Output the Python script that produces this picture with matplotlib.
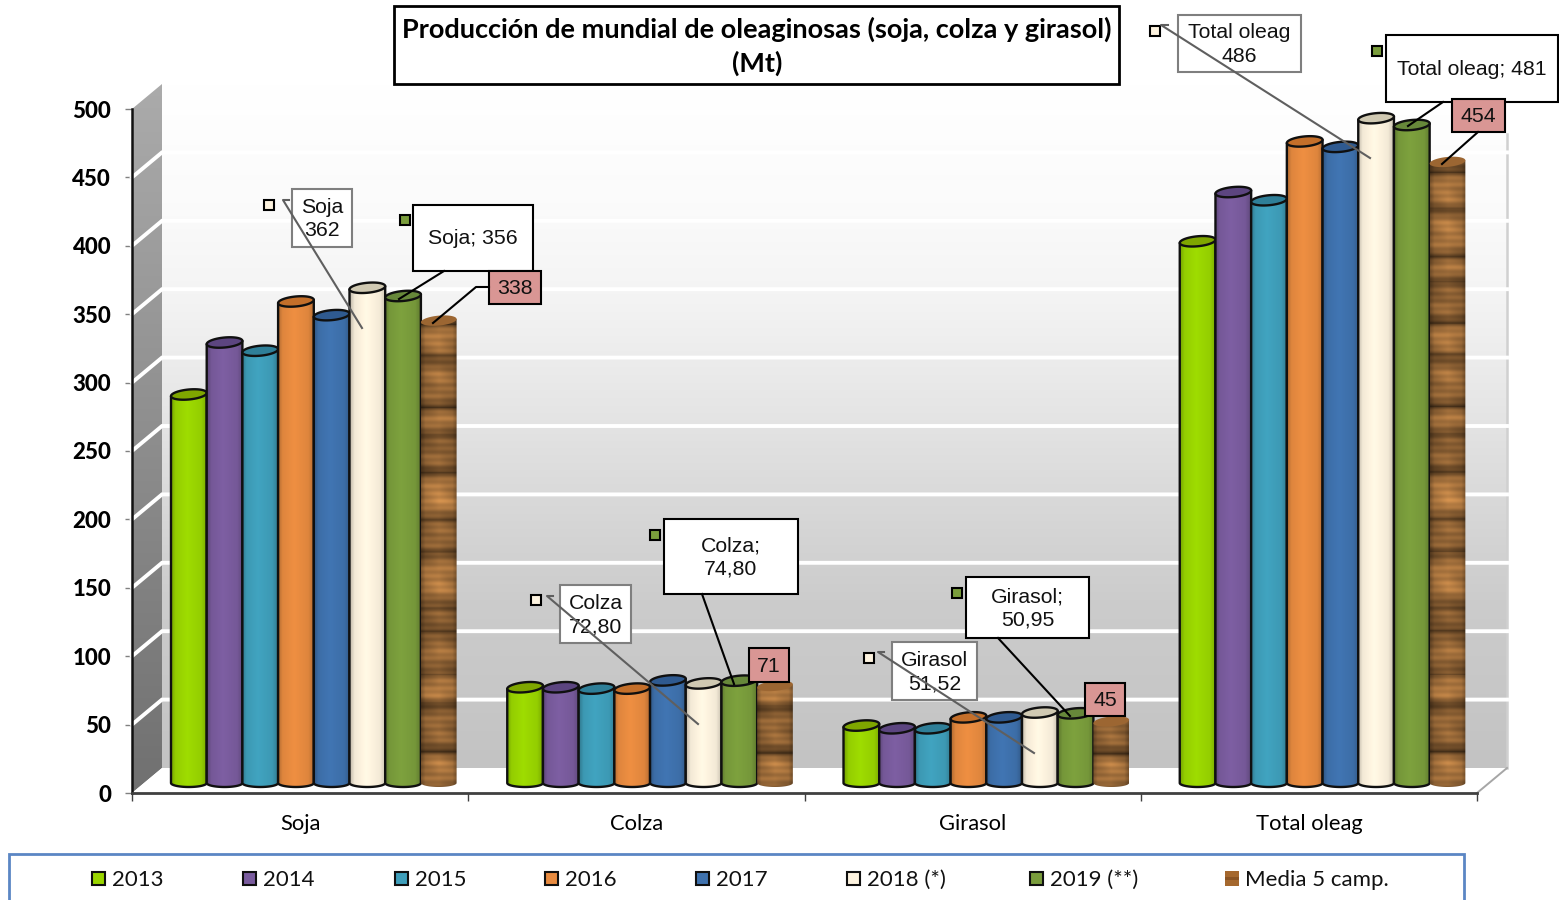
#!/usr/bin/env python3
import numpy as np
import matplotlib
matplotlib.use("Agg")
import matplotlib.pyplot as plt
from matplotlib.colors import to_rgb
from matplotlib.patches import PathPatch, Polygon, Rectangle
from matplotlib.path import Path

CATEGORIES = ["Soja", "Colza", "Girasol", "Total oleag"]
V_2013 = [284, 70, 42, 396]
V_2014 = [322, 70, 40, 432]
V_2015 = [316, 69, 40, 426]
V_2016 = [352, 69, 48, 469]
V_2017 = [342, 75, 48, 465]
V_2018 = [362, 72.80, 51.52, 486]
V_2019 = [356, 74.80, 50.95, 481]
V_MEDIA = [338, 71, 45, 454]
SERIES_NAMES = ["2013", "2014", "2015", "2016", "2017", "2018 (*)", "2019 (**)", "Media 5 camp."]
Y_TICKS = [0, 50, 100, 150, 200, 250, 300, 350, 400, 450, 500]
TITLE = "Producción de mundial de oleaginosas (soja, colza y girasol)\n(Mt)"

COLORS = ["#9ad600", "#7a5c9e", "#3f9fbb", "#e88b40", "#3f72ae", "#fdf3df", "#7a9d3c", "#a5682e"]
TOPS = ["#7fa600", "#5c4580", "#2f7f98", "#c46f2a", "#2f5a90", "#d0c9b2", "#67883a", "#9c6632"]
ALL_VALUES = [V_2013, V_2014, V_2015, V_2016, V_2017, V_2018, V_2019, V_MEDIA]

# ring heights (px) and brightness of the wooden "media" cylinders
WOOD_RINGS = [36, 50, 28, 44, 24, 56, 33, 47, 39, 27, 53, 31, 42, 25, 49]
WOOD_LEVELS = [1.02, 0.88, 1.06, 0.92, 0.82, 1.03, 0.9, 1.08, 0.85, 0.98, 0.93, 1.04, 0.87, 0.96, 1.02]

FIG_W, FIG_H = 1559, 900
AX_L, AX_R, AX_T, AX_B = 132, 1477, 109, 793
PX_X = (AX_R - AX_L) / 4.0
PX_Y = (AX_B - AX_T) / 500.0
DEPTH_X = 30 / PX_X
DEPTH_Y = 25 / PX_Y
BAR_W = 35.7 / PX_X
GROUP_START = 39 / PX_X
BAR_BASE = 10 / PX_Y
ELL_H = 5 / PX_Y
TILT = 1.6 / PX_Y

BODY_FONT = ["Lato", "DejaVu Sans"]
BOX_FONT = ["Liberation Sans", "DejaVu Sans"]


def fmt(v):
    if float(v).is_integer():
        return str(int(v))
    return f"{v:.2f}".replace(".", ",")


def wall_shade(y_px):
    return np.interp(y_px, [84, 200, 300, 400, 500, 600, 768],
                     [1.0, 0.985, 0.955, 0.905, 0.85, 0.80, 0.765])


def draw_walls(ax):
    rows = np.arange(84, 769)[::-1]
    shade = wall_shade(rows)
    back = np.dstack([shade, shade, shade])[:, None, :].reshape(len(rows), 1, 3)
    ax.imshow(back, extent=(DEPTH_X, 4 + DEPTH_X, DEPTH_Y, 500 + DEPTH_Y), origin="lower",
              aspect="auto", zorder=1, clip_on=False, interpolation="bilinear")

    side = np.linspace(0.44, 0.67, 256)[:, None]
    side = np.dstack([side, side, side])
    im = ax.imshow(side, extent=(0, DEPTH_X, 0, 500 + DEPTH_Y), origin="lower",
                   aspect="auto", zorder=1, interpolation="bilinear")
    clip = Polygon([(0, 0), (DEPTH_X, DEPTH_Y), (DEPTH_X, 500 + DEPTH_Y), (0, 500)],
                   transform=ax.transData, fc="none", ec="none")
    ax.add_patch(clip)
    clip.set_clip_on(False)
    im.set_clip_path(clip)
    # images fall back on the axes box when no box is set, and the wall rises above it
    im.set_clip_box(ax.figure.bbox)

    ax.add_patch(Polygon([(0, 0), (DEPTH_X, DEPTH_Y), (4 + DEPTH_X, DEPTH_Y), (4, 0)], fc="white",
                         ec="none", zorder=1.5, clip_on=False))
    for t in Y_TICKS[1:-1]:
        ax.plot([0, DEPTH_X, 4 + DEPTH_X], [t, t + DEPTH_Y, t + DEPTH_Y], color="white", lw=2.8,
                zorder=2, clip_on=False, solid_joinstyle="miter")
    ax.plot([4, 4 + DEPTH_X], [0, DEPTH_Y], color="#a6a6a6", lw=1.4, zorder=2, clip_on=False)
    ax.plot([4 + DEPTH_X, 4 + DEPTH_X], [DEPTH_Y, 482], color="#d0d0d0", lw=1.8, zorder=1.8,
            clip_on=False)


def cylinder_paths(x0, top):
    t = np.linspace(0, np.pi, 40)
    a = BAR_W / 2
    cx = x0 + a
    # body outline: down the right side, lower arc, up the left side
    bot_x = cx + a * np.cos(t)
    bot_y = BAR_BASE - ELL_H * 0.8 * np.sin(t)
    body = np.vstack([[cx + a, top + TILT], np.column_stack([bot_x, bot_y]), [cx - a, top - TILT]])
    tt = np.linspace(0, 2 * np.pi, 60)
    cap = np.column_stack([cx + a * np.cos(tt), top + ELL_H * np.sin(tt) + TILT * np.cos(tt)])
    return body, cap


def wood_image(n_rows):
    rows = np.arange(n_rows, dtype=float)
    ends = np.cumsum(WOOD_RINGS * 3)
    idx = np.searchsorted(ends, rows, side="right")
    starts = np.r_[0, ends[:-1]]
    u = (rows - starts[idx]) / (ends[idx] - starts[idx])
    levels = np.array(WOOD_LEVELS * 3)[idx]
    # dark at the joint between two rings, lighter inside, with some fine grain
    rings = levels * (0.58 + 0.48 * np.sin(np.pi * u) ** 0.6)
    rings = rings + 0.07 * np.sin(rows * 0.83) + 0.06 * np.sin(rows * 0.29)
    across = np.interp(np.linspace(0, 1, 36), [0, 0.12, 0.5, 0.88, 1], [0.7, 0.92, 1.04, 0.92, 0.7])
    wave = 1 + 0.05 * np.sin(rows[:, None] * 0.21 + np.linspace(0, 5, 36)[None, :])
    shade = rings[:, None] * across[None, :] * wave
    rgb = np.array(to_rgb("#a3703c"))
    return np.clip(shade[:, :, None] * rgb, 0, 1)


def draw_cylinder(ax, x0, value, color, top_color, z, wood=False):
    top = value + BAR_BASE
    body, cap = cylinder_paths(x0, top)
    edge = "none" if wood else "#101010"
    clip = PathPatch(Path(np.vstack([body, body[0]]), closed=True), fc="none", ec="none",
                     transform=ax.transData)
    ax.add_patch(clip)
    clip.set_clip_on(False)
    if wood:
        img = wood_image(max(int((value + 12) * PX_Y), 4))
    else:
        across = np.interp(np.linspace(0, 1, 36), [0, 0.12, 0.45, 0.85, 1], [0.78, 0.96, 1.03, 0.96, 0.8])
        img = np.clip(across[None, :, None] * np.array(to_rgb(color)), 0, 1)
    im = ax.imshow(img, extent=(x0, x0 + BAR_W, BAR_BASE - ELL_H, top + ELL_H), origin="lower",
                   aspect="auto", zorder=z, interpolation="bilinear")
    im.set_clip_path(clip)
    im.set_clip_box(ax.figure.bbox)
    if not wood:
        ax.plot(np.r_[body[:, 0]], np.r_[body[:, 1]], color=edge, lw=1.7, zorder=z + 0.1,
                clip_on=False, solid_capstyle="round")
    ax.add_patch(Polygon(cap, closed=True, fc=top_color, ec=edge, lw=1.7, zorder=z + 0.2, clip_on=False))


def draw_bars(ax):
    z = 3
    for c in range(len(CATEGORIES)):
        for s, values in enumerate(ALL_VALUES):
            x0 = c + GROUP_START + s * BAR_W
            draw_cylinder(ax, x0, values[c], COLORS[s], TOPS[s], z, wood=(s == 7))
            z += 1


def setup_axes(ax):
    ax.set_xlim(0, 4)
    ax.set_ylim(0, 500)
    ax.set_autoscale_on(False)
    ax.patch.set_visible(False)
    for side in ["top", "right"]:
        ax.spines[side].set_visible(False)
    ax.spines["left"].set_linewidth(1.8)
    ax.spines["left"].set_color("#111111")
    ax.spines["bottom"].set_linewidth(2.0)
    ax.spines["bottom"].set_color("#404040")
    ax.spines["left"].set_zorder(500)
    ax.spines["bottom"].set_zorder(500)

    ax.set_yticks(Y_TICKS)
    ax.set_yticklabels([str(t) for t in Y_TICKS], family=BODY_FONT, fontweight="black", fontsize=16)
    ax.tick_params(axis="y", length=5, width=1, color="#808080", pad=10)
    ax.set_xticks(range(5))
    ax.set_xticklabels([""] * 5)
    ax.set_xticks(np.arange(len(CATEGORIES)) + 0.5, minor=True)
    ax.set_xticklabels(CATEGORIES, minor=True, family=BODY_FONT, fontsize=15.8)
    ax.tick_params(axis="x", which="major", length=6, width=1, color="#404040")
    ax.tick_params(axis="x", which="minor", length=0, pad=15)


def callout(ov, box, text, marker=None, marker_color=None, leader=None, fc="white", ec="black", z=20):
    x0, y0, x1, y1 = box
    ov.add_patch(Rectangle((x0, y0), x1 - x0, y1 - y0, fc=fc, ec=ec, lw=1.5, zorder=z))
    ov.text((x0 + x1) / 2, (y0 + y1) / 2 + 1, text, ha="center", va="center", family=BOX_FONT,
            fontsize=15.3, linespacing=1.3, color="#111111", zorder=z + 0.1)
    if marker is not None:
        ov.plot([marker[0]], [marker[1]], marker="s", ms=7.5, mfc=marker_color, mec="black", mew=1.5,
                ls="none", zorder=z)
    if leader is not None:
        ov.plot(*zip(*leader), color="#5f5f5f" if ec != "black" else "black", lw=1.5, zorder=z + 0.2)


def draw_callouts(ov):
    grey = "#7f7f7f"
    cream = COLORS[5]
    green = COLORS[6]
    pink = "#d99694"
    for c, box, marker, leader in [
        (0, (292, 189, 352, 247), (269, 205), [(289, 200), (283, 200), (362, 328)]),
        (1, (560, 585, 631, 643), (536, 600), [(553, 596), (547, 596), (698, 724)]),
        (2, (892, 642, 977, 700), (869, 658), [(884, 652), (878, 652), (1034, 753)]),
        (3, (1178, 15, 1301, 72), (1155, 31), [(1168, 25), (1161, 25), (1370, 158)]),
    ]:
        callout(ov, box, f"{CATEGORIES[c]}\n{fmt(V_2018[c])}", marker, cream, leader, ec=grey)
    for c, box, marker, leader, sep in [
        (0, (413, 205, 533, 271), (405, 220), [(444, 271), (399, 299)], " "),
        (1, (664, 519, 798, 594), (655, 535), [(702, 594), (734, 684)], "\n"),
        (2, (966, 577, 1089, 638), (957, 593), [(998, 638), (1070, 716)], "\n"),
        (3, (1386, 35, 1558, 102), (1377, 51), [(1443, 102), (1408, 126)], " "),
    ]:
        callout(ov, box, f"{CATEGORIES[c]};{sep}{fmt(V_2019[c])}", marker, green, leader, z=21)
    for c, box, leader in [
        (0, (489, 271, 541, 304), [(489, 287), (476, 287), (433, 323)]),
        (1, (749, 648, 789, 682), None),
        (2, (1085, 683, 1125, 716), None),
        (3, (1452, 99, 1505, 132), [(1478, 132), (1442, 164)]),
    ]:
        callout(ov, box, fmt(V_MEDIA[c]), leader=leader, fc=pink, z=22)


def draw_title(ov):
    ov.add_patch(Rectangle((394, 6), 725, 78, fc="white", ec="black", lw=2, zorder=30))
    ov.text(757, 46, TITLE, ha="center", va="center", family=BODY_FONT, fontweight="bold",
            fontsize=19.5, linespacing=1.42, color="black", zorder=31)


def draw_legend(ov):
    ov.add_patch(Rectangle((9, 854), 1455, 60, fc="white", ec="#5b86c4", lw=2, zorder=30))
    xs = [99, 250, 402, 552, 703, 854, 1037, 1232]
    for name, x, color in zip(SERIES_NAMES, xs, COLORS):
        if name.startswith("Media"):
            ov.add_patch(Rectangle((x - 7, 871), 14, 15, fc=color, ec="none", zorder=31))
            ov.add_patch(Rectangle((x - 7, 877), 14, 3, fc="#8a5424", ec="none", zorder=31))
        else:
            ov.add_patch(Rectangle((x - 6.5, 871.5), 13, 13, fc=color, ec="#101010", lw=1.5, zorder=31))
        ov.text(x + 13, 879.5, name, ha="left", va="center", family=BODY_FONT, fontsize=16,
                color="#111111", zorder=31)


def main():
    fig = plt.figure(figsize=(FIG_W / 100, FIG_H / 100), dpi=100, facecolor="white")
    ax = fig.add_axes([AX_L / FIG_W, 1 - AX_B / FIG_H, (AX_R - AX_L) / FIG_W, (AX_B - AX_T) / FIG_H])
    setup_axes(ax)
    draw_walls(ax)
    draw_bars(ax)
    ax.set_xlim(0, 4)
    ax.set_ylim(0, 500)

    ov = fig.add_axes([0, 0, 1, 1], zorder=10)
    ov.set_xlim(0, FIG_W)
    ov.set_ylim(FIG_H, 0)
    ov.axis("off")
    draw_callouts(ov)
    draw_title(ov)
    draw_legend(ov)

    fig.savefig("out.png", dpi=100)
    plt.close(fig)


if __name__ == "__main__":
    main()
